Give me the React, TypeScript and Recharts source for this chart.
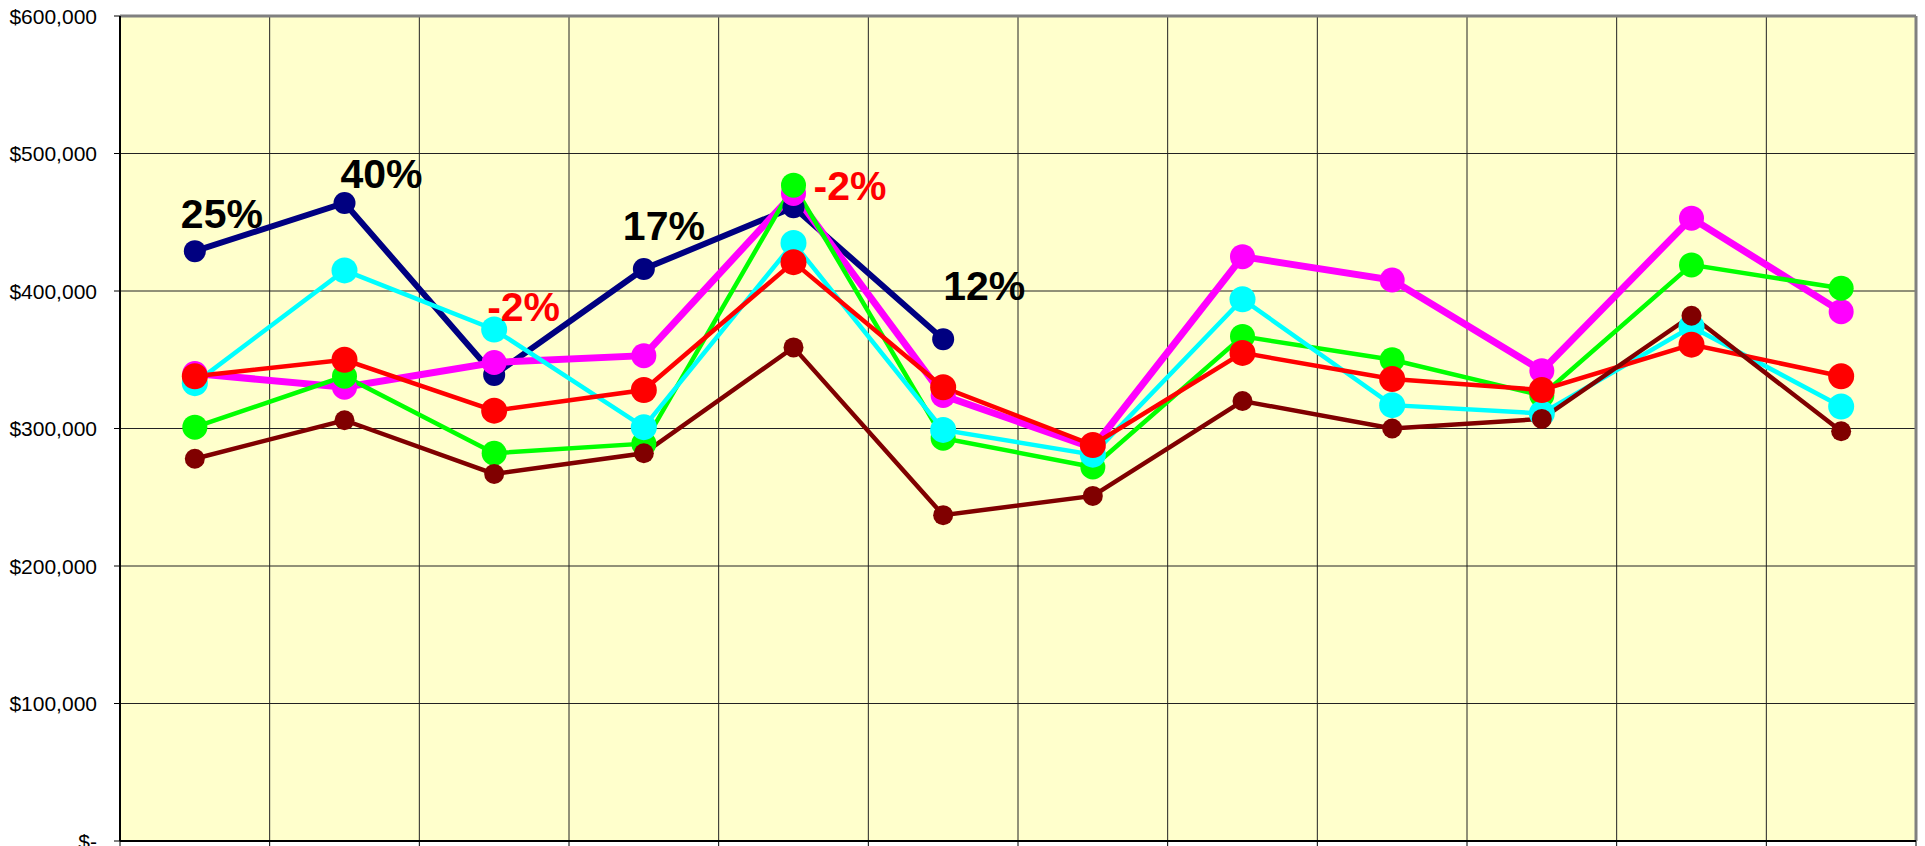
import { LineChart, Line, XAxis, YAxis, CartesianGrid, ReferenceLine, LabelList } from 'recharts';

// x labels are cut off in the source picture, so these are placeholders only
const MONTHS = ['Jan', 'Feb', 'Mar', 'Apr', 'May', 'Jun', 'Jul', 'Aug', 'Sep', 'Oct', 'Nov', 'Dec'];

const NAVY = [429000, 464000, 339000, 416000, 461000, 365000];
const MAGENTA = [340000, 330000, 348000, 353000, 471000, 324000, 286000, 425000, 408000, 342000, 453000, 385000];
const GREEN = [301000, 338000, 282000, 289000, 477000, 293000, 272000, 367000, 350000, 324000, 419000, 402000];
const CYAN = [333000, 415000, 372000, 301000, 435000, 299000, 281000, 394000, 317000, 311000, 374000, 316000];
const RED = [338000, 350000, 313000, 328000, 421000, 330000, 288000, 355000, 336000, 328000, 361000, 338000];
const DARKRED = [278000, 306000, 267000, 282000, 359000, 237000, 251000, 320000, 300000, 307000, 382000, 298000];

const NAVY_LABELS = ['25%', '40%', '-2%', '17%', '-2%', '12%'];

const Y_TICKS = [0, 100000, 200000, 300000, 400000, 500000, 600000];
const X_TICKS = [0, 1, 2, 3, 4, 5, 6, 7, 8, 9, 10, 11, 12];

// where each percentage label sits relative to its point (left edge, baseline)
const LABEL_SHIFT = [
  [-14, -23],
  [-4, -15],
  [-7, -54],
  [-21, -29],
  [20, -7],
  [0, -39],
];

const data = MONTHS.map((m, i) => ({
  x: i + 0.5,
  month: m,
  navy: NAVY[i],
  pct: NAVY_LABELS[i],
  magenta: MAGENTA[i],
  green: GREEN[i],
  cyan: CYAN[i],
  red: RED[i],
  darkred: DARKRED[i],
}));

const FONT = '"Liberation Sans", Arial, sans-serif';

const fmtMoney = (v: number) => (v === 0 ? '$-' : '$' + v.toLocaleString('en-US'));

const MoneyTick = (props: any) => {
  const { x, y, payload } = props;
  return (
    <text x={x} y={y} dy="0.36em" textAnchor="end" style={{ fontSize: '21px', fontFamily: FONT }} fill="#000">
      {fmtMoney(payload.value)}
    </text>
  );
};

const PctLabel = (props: any) => {
  const { x, y, index } = props;
  const txt = NAVY_LABELS[index];
  if (txt == null || x == null || y == null) return null;
  const [dx, dy] = LABEL_SHIFT[index] || [0, -20];
  return (
    <text
      x={x + dx}
      y={y + dy}
      fill={txt.startsWith('-') ? '#FF0000' : '#000000'}
      fontFamily={FONT}
      fontWeight="bold"
      fontSize={41}
      textAnchor="start"
    >
      {txt}
    </text>
  );
};

function dot(color: string, r: number) {
  return { r, fill: color, stroke: color, strokeWidth: 0 };
}

export default function App() {
  return (
    <div style={{ position: 'absolute', left: 0, top: 0, width: 1925, height: 846, background: '#fff' }}>
      <LineChart width={1925} height={846} data={data} margin={{ top: 16, right: 9, bottom: 0, left: 0 }}>
        <CartesianGrid fill="#FFFFCC" stroke="#222" strokeWidth={1} />
        <XAxis
          type="number"
          dataKey="x"
          domain={[0, 12]}
          ticks={X_TICKS}
          interval={0}
          height={5}
          tickSize={5}
          tickFormatter={() => ''}
          axisLine={{ stroke: '#000', strokeWidth: 2 }}
          tickLine={{ stroke: '#000' }}
        />
        <YAxis
          type="number"
          domain={[0, 600000]}
          ticks={Y_TICKS}
          interval={0}
          width={120}
          tickSize={6}
          tickMargin={17}
          tick={MoneyTick}
          axisLine={{ stroke: '#000', strokeWidth: 2 }}
          tickLine={{ stroke: '#000' }}
        />
        <ReferenceLine y={600000} stroke="#808080" strokeWidth={3} />
        <ReferenceLine x={12} stroke="#808080" strokeWidth={3} />

        <Line dataKey="navy" stroke="#000080" strokeWidth={6} dot={dot('#000080', 11)} activeDot={false} isAnimationActive={false}>
          <LabelList dataKey="pct" content={PctLabel} />
        </Line>
        <Line dataKey="magenta" stroke="#FF00FF" strokeWidth={7} dot={dot('#FF00FF', 12.5)} activeDot={false} isAnimationActive={false} />
        <Line dataKey="green" stroke="#00FF00" strokeWidth={4.5} dot={dot('#00FF00', 12.5)} activeDot={false} isAnimationActive={false} />
        <Line dataKey="cyan" stroke="#00FFFF" strokeWidth={4.5} dot={dot('#00FFFF', 13)} activeDot={false} isAnimationActive={false} />
        <Line dataKey="red" stroke="#FF0000" strokeWidth={4.5} dot={dot('#FF0000', 13)} activeDot={false} isAnimationActive={false} />
        <Line dataKey="darkred" stroke="#800000" strokeWidth={4.5} dot={dot('#800000', 10)} activeDot={false} isAnimationActive={false} />
      </LineChart>
    </div>
  );
}
